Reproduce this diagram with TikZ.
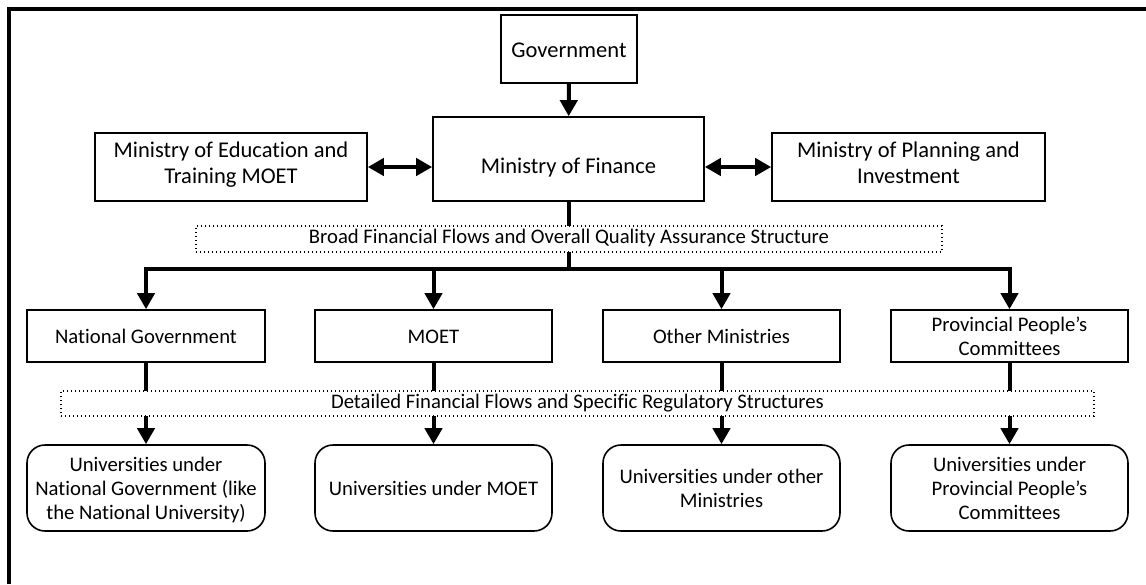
\documentclass[tikz,border=0pt]{standalone}
\usepackage{fontspec}
\setmainfont{Carlito}[Ligatures=NoCommon]
\usetikzlibrary{arrows.meta}

\tikzset{
  box/.style={draw, line width=1.6, fill=white, align=center, inner sep=0pt,
    execute at begin node={\rule{0pt}{22.8pt}}, execute at end node=\strut,
    font=\fontsize{20.7}{24}\selectfont},
  multi/.style={text depth=0pt},
  topbox/.style={box, execute at begin node={\rule{0pt}{24.2pt}},
    font=\fontsize{22.5}{26}\selectfont},
  unibox/.style={box, rounded corners=18},
  note/.style={draw, line width=1.3, dash pattern=on 1.3 off 2.7, fill=white, inner sep=0pt,
    execute at begin node=\strut, font=\fontsize{20.7}{24}\selectfont},
  flow/.style={line width=4, -{Triangle[length=16,width=17]}},
  dflow/.style={line width=4, {Triangle[length=16,width=17]}-{Triangle[length=16,width=17]}},
}

\begin{document}
\begin{tikzpicture}[x=1pt,y=-1pt]
  \useasboundingbox (0,0) rectangle (1146,584);

  %Frame
  \draw [line width=3.5] (9,584) -- (9,9) -- (1146,9);

  %Top row
  \node [topbox, minimum width=136, minimum height=68] (gov) at (569,49) {Government};
  \node [topbox, minimum width=271, minimum height=84,
    execute at begin node={\rule{0pt}{36pt}}] (mof) at (568.5,159) {Ministry of Finance};
  \node [topbox, minimum width=272, minimum height=68] (moet) at (231,167) {Ministry of Education and\\Training MOET};
  \node [topbox, minimum width=273, minimum height=68] (mpi) at (908.5,167) {Ministry of Planning and\\Investment};

  %Second row
  \node [box, minimum width=238, minimum height=52] (natgov) at (146,336) {National Government};
  \node [box, minimum width=237, minimum height=52] (moetb) at (433.5,336) {MOET};
  \node [box, minimum width=237, minimum height=52] (othmin) at (721.5,336) {Other Ministries};
  \node [box, multi, minimum width=237, minimum height=52] (prov) at (1009.5,336) {Provincial People’s\\Committees};

  %Third row
  \node [unibox, multi, minimum width=238, minimum height=86] (unatgov) at (146,488) {Universities under\\National Government (like\\the National University)};
  \node [unibox, minimum width=237, minimum height=86] (umoet) at (433.5,488) {Universities under MOET};
  \node [unibox, multi, minimum width=237, minimum height=86] (uothmin) at (721.5,488) {Universities under other\\Ministries};
  \node [unibox, multi, minimum width=237, minimum height=86] (uprov) at (1009.5,488) {Universities under\\Provincial People’s\\Committees};

  %Connectors
  \coordinate (bus) at (568.5,269);
  \draw [flow] (gov) -- (mof);
  \draw [dflow] (moet.east) -- (moet.east -| mof.west);
  \draw [dflow] (mof.east |- mpi.west) -- (mpi.west);
  \draw [line width=4] (mof.south) -- (bus);
  \draw [flow] (bus) -| (natgov.north);
  \draw [flow] (bus) -| (moetb.north);
  \draw [flow] (bus) -| (othmin.north);
  \draw [flow] (bus) -| (prov.north);
  \draw [flow] (natgov) -- (unatgov);
  \draw [flow] (moetb) -- (umoet);
  \draw [flow] (othmin) -- (uothmin);
  \draw [flow] (prov) -- (uprov);

  %Dotted labels
  \node [note, minimum width=746, minimum height=26] (broad) at (569,239) {Broad Financial Flows and Overall Quality Assurance Structure};
  \node [note, minimum width=1033, minimum height=25] (detail) at (577.5,403.5) {Detailed Financial Flows and Specific Regulatory Structures};
\end{tikzpicture}
\end{document}
